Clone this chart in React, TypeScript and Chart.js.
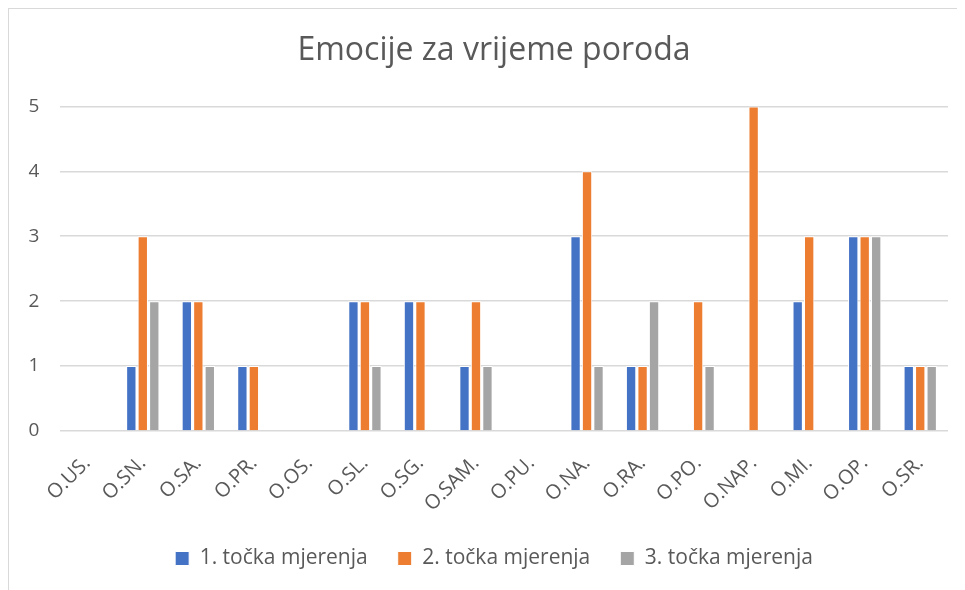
import React, { useEffect, useRef } from "react";
import { Chart, registerables } from "chart.js";

Chart.register(...registerables);

const categories = ["O.US.", "O.SN.", "O.SA.", "O.PR.", "O.OS.", "O.SL.", "O.SG.", "O.SAM.", "O.PU.", "O.NA.", "O.RA.", "O.PO.", "O.NAP.", "O.MI.", "O.OP.", "O.SR."];
const series1 = [0, 1, 2, 1, 0, 2, 2, 1, 0, 3, 1, 0, 0, 2, 3, 1];
const series2 = [0, 3, 2, 1, 0, 2, 2, 2, 0, 4, 1, 2, 5, 3, 3, 1];
const series3 = [0, 2, 1, 0, 0, 1, 0, 1, 0, 1, 2, 1, 0, 0, 3, 1];
const seriesNames = ["1. točka mjerenja", "2. točka mjerenja", "3. točka mjerenja"];
const title = "Emocije za vrijeme poroda";

const FONT = "'Open Sans', 'Noto Sans', sans-serif";
const TEXT = "#595959";

const rotatedXLabels = {
  id: "rotatedXLabels",
  afterDraw(chart: any) {
    const xs = chart.scales.x;
    const ctx = chart.ctx;
    const labels = chart.data.labels as string[];
    ctx.save();
    ctx.font = `20px ${FONT}`;
    ctx.fillStyle = TEXT;
    ctx.textAlign = "right";
    ctx.textBaseline = "alphabetic";
    labels.forEach((lab, i) => {
      const x = xs.getPixelForTick(i);
      ctx.save();
      ctx.translate(x + 4, xs.top + 33);
      ctx.rotate(-Math.PI / 4);
      ctx.fillText(lab, 0, 0);
      ctx.restore();
    });
    ctx.restore();
  },
};

export default function App() {
  const ref = useRef<HTMLCanvasElement | null>(null);
  useEffect(() => {
    if (!ref.current) return;
    const colors = ["#4472C4", "#ED7D31", "#A5A5A5"];
    const chart = new Chart(ref.current, {
      type: "bar",
      data: {
        labels: categories,
        datasets: [series1, series2, series3].map((d, i) => ({
          label: seriesNames[i],
          data: d,
          backgroundColor: colors[i],
          borderColor: "#ffffff",
          borderWidth: 1,
          categoryPercentage: 0.62,
          barPercentage: 0.9,
        })),
      },
      options: {
        animation: false,
        responsive: false,
        maintainAspectRatio: false,
        layout: { padding: { left: 31, right: 16, top: 10, bottom: 10 } },
        plugins: {
          title: {
            display: true,
            text: title,
            color: TEXT,
            font: { family: FONT, size: 32, weight: "normal" },
            padding: { top: 13, bottom: 36 },
          },
          legend: {
            position: "bottom",
            labels: {
              color: TEXT,
              font: { family: FONT, size: 21 },
              boxWidth: 14,
              boxHeight: 14,
              padding: 30,
            },
          },
          tooltip: { enabled: false },
        },
        scales: {
          x: {
            grid: { display: false },
            border: { display: false },
            ticks: { display: false },
            afterFit(scale: any) {
              scale.height = 87;
            },
          },
          y: {
            min: 0,
            max: 5,
            grid: { color: "#d9d9d9", lineWidth: 1.5, drawTicks: false },
            border: { display: false },
            ticks: {
              stepSize: 1,
              color: TEXT,
              font: { family: FONT, size: 19 },
              mirror: true,
              padding: -31,
            },
            afterFit(scale: any) {
              scale.width = 19.5;
            },
          },
        },
      },
      plugins: [rotatedXLabels],
    });
    return () => chart.destroy();
  }, []);
  return (
    <div
      style={{
        width: 957,
        height: 582,
        borderTop: "1.5px solid #d9d9d9",
        borderLeft: "1.5px solid #d9d9d9",
        boxSizing: "border-box",
        background: "#fff",
      }}
    >
      <canvas ref={ref} width={955} height={580} />
    </div>
  );
}
